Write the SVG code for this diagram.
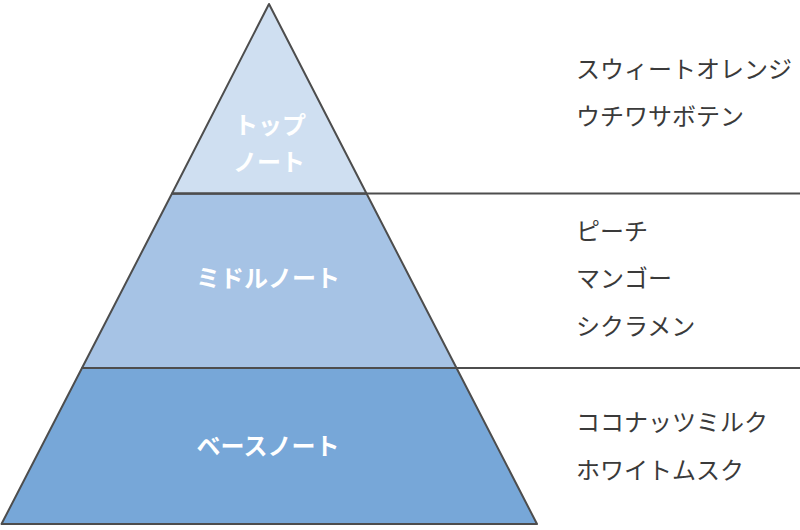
<svg xmlns="http://www.w3.org/2000/svg" width="800" height="530" viewBox="0 0 800 530">
<style>
.seg{stroke:#4d4d4d;stroke-width:2;stroke-linejoin:round}
.lbl{font-family:"Noto Sans CJK JP","Noto Sans",sans-serif;font-size:24px;font-weight:700;fill:#ffffff;text-anchor:middle}
.item{font-family:"Noto Sans CJK JP","Noto Sans",sans-serif;font-size:24px;fill:#3a3a3a}
.div{stroke:#4d4d4d;stroke-width:2;fill:none}
</style>
<rect width="800" height="530" fill="#ffffff"/>
<g id="base-note">
<polygon class="seg" fill="#77a7d8" points="82,368 456.5,368 537,524 1.5,524"/>
<text class="lbl" x="268" y="455">ベースノート</text>
</g>
<g id="middle-note">
<polygon class="seg" fill="#a6c3e5" points="172,193.5 366.5,193.5 456.5,368 82,368"/>
<text class="lbl" x="268" y="287">ミドルノート</text>
</g>
<g id="top-note">
<polygon class="seg" fill="#cfdff1" points="269,4 366.5,193.5 172,193.5"/>
<text class="lbl" x="270" y="134">トップ</text>
<text class="lbl" x="269" y="171">ノート</text>
</g>
<g id="connectors">
<line class="div" x1="172" y1="193.5" x2="800" y2="193.5"/>
<line class="div" x1="82" y1="368" x2="800" y2="368"/>
</g>
<g id="top-items">
<text class="item" x="576" y="78">スウィートオレンジ</text>
<text class="item" x="576" y="125">ウチワサボテン</text>
</g>
<g id="middle-items">
<text class="item" x="576" y="240">ピーチ</text>
<text class="item" x="576" y="287">マンゴー</text>
<text class="item" x="576" y="335">シクラメン</text>
</g>
<g id="base-items">
<text class="item" x="576" y="431">ココナッツミルク</text>
<text class="item" x="576" y="479">ホワイトムスク</text>
</g>
</svg>
